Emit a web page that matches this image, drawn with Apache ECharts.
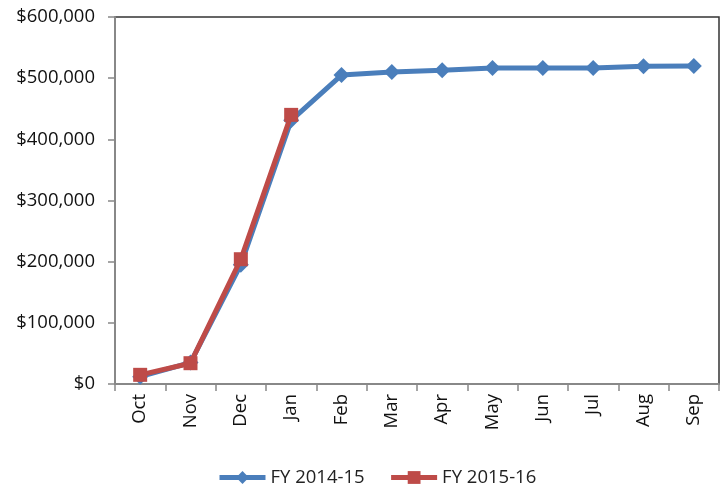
<!DOCTYPE html>
<html><head><meta charset="utf-8">
<script src="https://cdn.jsdelivr.net/npm/echarts@6/dist/echarts.min.js"></script>
<style>html,body{margin:0;padding:0;background:#fff}#c{width:723px;height:489px}</style>
</head><body><div id="c"></div>
<script>
const months = ['Oct','Nov','Dec','Jan','Feb','Mar','Apr','May','Jun','Jul','Aug','Sep'];
const fy1415 = [12000, 35000, 195000, 431000, 505000, 510000, 513000, 516500, 516500, 516500, 519500, 520000];
const fy1516 = [15000, 34000, 204000, 440000, null, null, null, null, null, null, null, null];
const yTicks = [0, 100000, 200000, 300000, 400000, 500000, 600000];
const names = ['FY 2014-15', 'FY 2015-16'];

const font = 'Open Sans, Noto Sans, sans-serif';
const chart = echarts.init(document.getElementById('c'));
chart.setOption({
  animation: false,
  grid: {left: 115, right: 4, top: 17, bottom: 105, show: true, borderColor: '#333', borderWidth: 1.5, backgroundColor: '#fff'},
  legend: {
    bottom: -3, left: 212, itemWidth: 46, itemHeight: 16, itemGap: 24,
    lineStyle: {width: 5},
    textStyle: {fontFamily: font, fontSize: 18.5, color: '#222'},
    data: names
  },
  xAxis: {
    type: 'category', data: months, boundaryGap: true,
    axisLine: {lineStyle: {color: '#888', width: 2}},
    axisTick: {show: true, length: 7, lineStyle: {color: '#888', width: 1.5}},
    axisLabel: {rotate: 90, margin: 10, fontFamily: font, fontSize: 18.5, color: '#111', interval: 0},
    splitLine: {show: false}
  },
  yAxis: {
    type: 'value', min: yTicks[0], max: yTicks[yTicks.length-1], interval: yTicks[1]-yTicks[0],
    axisLine: {show: true, lineStyle: {color: '#888', width: 2}},
    axisTick: {show: true, length: 7, lineStyle: {color: '#888', width: 1.5}},
    axisLabel: {margin: 20, fontFamily: font, fontSize: 18.5, color: '#111',
      formatter: v => '$' + v.toLocaleString('en-US')},
    splitLine: {show: false}
  },
  series: [
    {name: names[0], type: 'line', data: fy1415, symbol: 'diamond', symbolSize: 16,
     itemStyle: {color: '#4A7EBB'}, lineStyle: {color: '#4A7EBB', width: 5}, z: 2},
    {name: names[1], type: 'line', data: fy1516, symbol: 'rect', symbolSize: 14,
     itemStyle: {color: '#BE4B48'}, lineStyle: {color: '#BE4B48', width: 5}, z: 3}
  ]
});
</script></body></html>
